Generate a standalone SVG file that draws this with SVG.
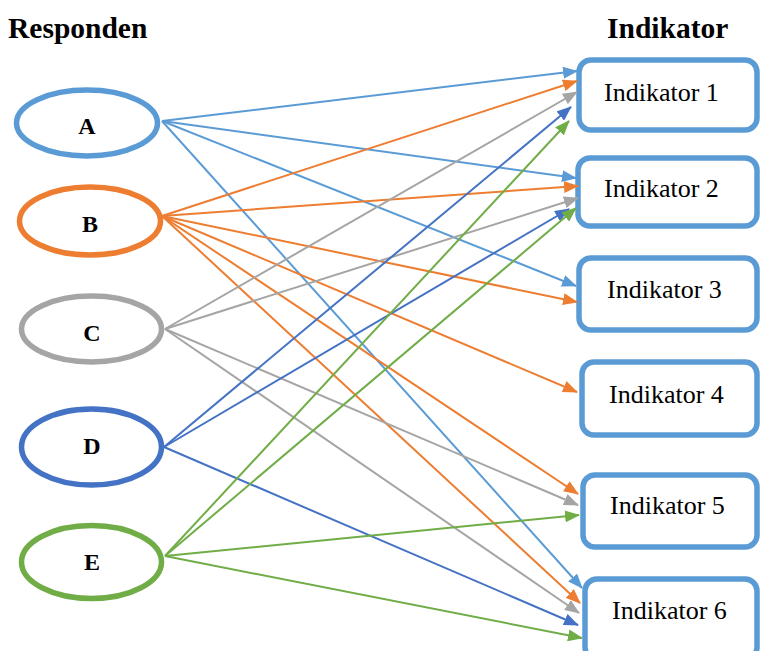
<svg xmlns="http://www.w3.org/2000/svg" width="760" height="651" viewBox="0 0 760 651">
<style>
.title{font-family:"Liberation Serif","Times New Roman",serif;font-weight:bold;font-size:29.5px;fill:#000}
.lbl{font-family:"Liberation Serif","Times New Roman",serif;font-weight:bold;font-size:24px;fill:#000;text-anchor:middle}
.ind{font-family:"Liberation Serif","Times New Roman",serif;font-size:26px;fill:#000}
.ell{fill:#fff;stroke-width:5.5}
.box{fill:#fff;stroke:#5B9BD5;stroke-width:5.5}
.c line{stroke-width:2;fill:none}
.a line{stroke:#5B9BD5;marker-end:url(#mA)}
.b line{stroke:#ED7D31;marker-end:url(#mB)}
.cc line{stroke:#A5A5A5;marker-end:url(#mC)}
.d line{stroke:#4472C4;marker-end:url(#mD)}
.e line{stroke:#70AD47;marker-end:url(#mE)}
</style>
<defs>
<marker id="mA" markerUnits="userSpaceOnUse" markerWidth="15" markerHeight="12" refX="14" refY="6" orient="auto"><path d="M0,0L15,6L0,12z" fill="#5B9BD5"/></marker>
<marker id="mB" markerUnits="userSpaceOnUse" markerWidth="15" markerHeight="12" refX="14" refY="6" orient="auto"><path d="M0,0L15,6L0,12z" fill="#ED7D31"/></marker>
<marker id="mC" markerUnits="userSpaceOnUse" markerWidth="15" markerHeight="12" refX="14" refY="6" orient="auto"><path d="M0,0L15,6L0,12z" fill="#A5A5A5"/></marker>
<marker id="mD" markerUnits="userSpaceOnUse" markerWidth="15" markerHeight="12" refX="14" refY="6" orient="auto"><path d="M0,0L15,6L0,12z" fill="#4472C4"/></marker>
<marker id="mE" markerUnits="userSpaceOnUse" markerWidth="15" markerHeight="12" refX="14" refY="6" orient="auto"><path d="M0,0L15,6L0,12z" fill="#70AD47"/></marker>
</defs>
<rect width="760" height="651" fill="#fff"/>
<text class="title" x="8" y="38">Responden</text>
<text class="title" x="607" y="38">Indikator</text>

<g id="ind1"><rect class="box" x="579" y="60" width="178" height="70" rx="12"/><text class="ind" x="604" y="101">Indikator 1</text></g>
<g id="ind2"><rect class="box" x="578" y="158" width="179" height="68" rx="12"/><text class="ind" x="604" y="197">Indikator 2</text></g>
<g id="ind3"><rect class="box" x="579" y="258" width="178" height="72" rx="12"/><text class="ind" x="607" y="298">Indikator 3</text></g>
<g id="ind4"><rect class="box" x="582" y="362" width="175" height="73" rx="12"/><text class="ind" x="609" y="403">Indikator 4</text></g>
<g id="ind5"><rect class="box" x="583" y="475" width="174" height="72" rx="12"/><text class="ind" x="610" y="514">Indikator 5</text></g>
<g id="ind6"><rect class="box" x="585" y="579" width="172" height="80" rx="12"/><text class="ind" x="612" y="619">Indikator 6</text></g>

<g id="connectors" class="c">
<g class="a">
<line x1="162" y1="121" x2="577" y2="71"/>
<line x1="162" y1="121" x2="576" y2="178"/>
<line x1="162" y1="121" x2="576" y2="286"/>
<line x1="162" y1="121" x2="582" y2="588"/>
</g>
<g class="b">
<line x1="162" y1="216" x2="577" y2="81"/>
<line x1="162" y1="216" x2="578" y2="186"/>
<line x1="162" y1="216" x2="577" y2="302"/>
<line x1="162" y1="216" x2="577" y2="392"/>
<line x1="162" y1="216" x2="578" y2="494"/>
<line x1="162" y1="216" x2="580" y2="603"/>
</g>
<g class="cc">
<line x1="165" y1="329" x2="577" y2="92"/>
<line x1="165" y1="329" x2="578" y2="198"/>
<line x1="165" y1="329" x2="578" y2="505"/>
<line x1="165" y1="329" x2="579" y2="613"/>
</g>
<g class="d">
<line x1="164" y1="447" x2="571" y2="107"/>
<line x1="164" y1="447" x2="569" y2="209"/>
<line x1="164" y1="447" x2="578" y2="625"/>
</g>
<g class="e">
<line x1="165" y1="556" x2="569" y2="121"/>
<line x1="165" y1="556" x2="576" y2="208"/>
<line x1="165" y1="556" x2="579" y2="515"/>
<line x1="165" y1="556" x2="582" y2="638"/>
</g>
</g>

<g id="A"><ellipse class="ell" cx="87" cy="123" rx="70.5" ry="33" stroke="#5B9BD5"/><text class="lbl" x="87" y="134">A</text></g>
<g id="B"><ellipse class="ell" cx="90" cy="221" rx="70.5" ry="34" stroke="#ED7D31"/><text class="lbl" x="90" y="232">B</text></g>
<g id="C"><ellipse class="ell" cx="91.5" cy="329" rx="70" ry="33" stroke="#A5A5A5"/><text class="lbl" x="92" y="341">C</text></g>
<g id="D"><ellipse class="ell" cx="91.5" cy="447" rx="70" ry="38" stroke="#4472C4"/><text class="lbl" x="92" y="454">D</text></g>
<g id="E"><ellipse class="ell" cx="91.5" cy="562" rx="70" ry="36.5" stroke="#70AD47"/><text class="lbl" x="92" y="570">E</text></g>
</svg>
